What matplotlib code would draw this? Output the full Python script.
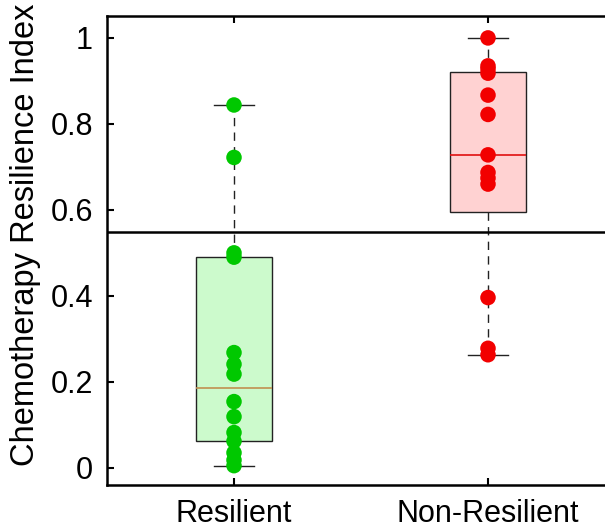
import numpy as np
import matplotlib
matplotlib.use("Agg")
import matplotlib.pyplot as plt

# data
categories = ["Resilient", "Non-Resilient"]
resilient = [0.844, 0.722, 0.500, 0.490, 0.268, 0.241, 0.218, 0.154, 0.119,
             0.082, 0.062, 0.035, 0.018, 0.005]
non_resilient = [1.000, 0.935, 0.928, 0.918, 0.867, 0.822, 0.728, 0.687,
                 0.674, 0.660, 0.396, 0.278, 0.263]
threshold = 0.549
yticks = [0, 0.2, 0.4, 0.6, 0.8, 1]

groups = [resilient, non_resilient]
dot_colors = ["#00C800", "#F20000"]
fill_colors = ["#CCFACC", "#FFD2D2"]
median_colors = ["#C09050", "#E01010"]

plt.rcParams['font.family'] = ['Liberation Sans', 'DejaVu Sans']

W, H = 605, 530
fig = plt.figure(figsize=(W / 100, H / 100), dpi=100)
ax = fig.add_axes([107 / W, (H - 485) / H, (W - 107) / W, (485 - 16) / H])


# box stats computed like MATLAB (hazen percentiles, 1.5 IQR whiskers)
def box_stats(vals, label):
    v = np.asarray(vals)
    q1, med, q3 = np.percentile(v, [25, 50, 75], method='hazen')
    iqr = q3 - q1
    lo = v[v >= q1 - 1.5 * iqr].min()
    hi = v[v <= q3 + 1.5 * iqr].max()
    return dict(med=med, q1=q1, q3=q3, whislo=lo, whishi=hi, fliers=[], label=label)


stats = [box_stats(g, c) for g, c in zip(groups, categories)]
positions = np.arange(1, len(groups) + 1)
bp = ax.bxp(stats, positions=positions, widths=0.3, capwidths=0.155,
            patch_artist=True, showfliers=False,
            boxprops=dict(edgecolor='#222222', linewidth=1.0),
            whiskerprops=dict(color='#222222', linestyle=(0, (6, 4.5)), linewidth=1.0),
            capprops=dict(color='#222222', linewidth=1.0),
            medianprops=dict(linewidth=1.2))
for i in range(len(groups)):
    bp['boxes'][i].set_facecolor(fill_colors[i])
    bp['medians'][i].set_color(median_colors[i])

# individual points
for i, g in enumerate(groups):
    ax.scatter(np.full(len(g), positions[i]), g, s=125, color=dot_colors[i],
               edgecolors='none', zorder=3)

ax.axhline(threshold, color='black', linewidth=1.8, zorder=2)

ax.set_xlim(0.5, 0.5 + (W - 107) / 254)
ax.set_ylim(-0.04, 1.051)
ax.set_yticks(yticks)
ax.set_yticklabels([f"{t:g}" for t in yticks])
ax.set_xticks(positions)
ax.set_xticklabels(categories)
ax.tick_params(axis='both', direction='in', length=5, width=1.5, labelsize=22,
               top=True, right=False)
ax.tick_params(axis='y', pad=10)
ax.tick_params(axis='x', pad=10)
for side in ['left', 'top', 'bottom']:
    ax.spines[side].set_linewidth(1.8)
ax.spines['right'].set_visible(False)
ax.set_ylabel("Chemotherapy Resilience Index", fontsize=23.5)
ax.yaxis.set_label_coords(-0.133, 0.533)

fig.savefig("out.png", dpi=100)
